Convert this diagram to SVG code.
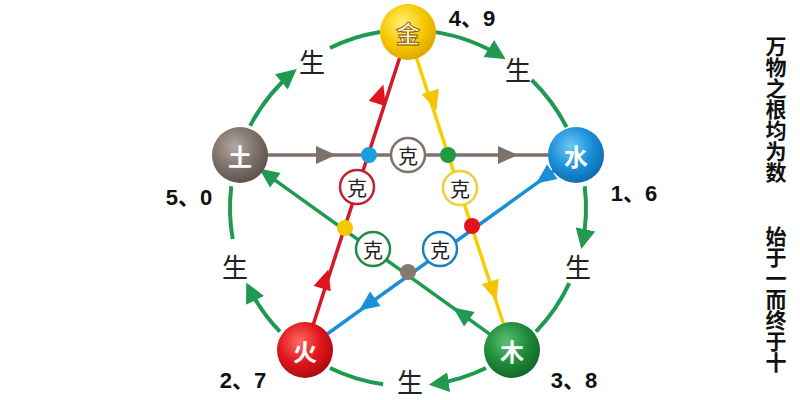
<svg xmlns="http://www.w3.org/2000/svg" width="800" height="400" viewBox="0 0 800 400">
<defs>
<radialGradient id="gJin" cx="40%" cy="35%" r="65%"><stop offset="0" stop-color="#fff27a"/><stop offset="0.6" stop-color="#f7c800"/><stop offset="1" stop-color="#e0a800"/></radialGradient>
<radialGradient id="gShui" cx="40%" cy="35%" r="65%"><stop offset="0" stop-color="#6cc8f5"/><stop offset="0.6" stop-color="#1a8fd8"/><stop offset="1" stop-color="#0d6fb0"/></radialGradient>
<radialGradient id="gMu" cx="40%" cy="35%" r="65%"><stop offset="0" stop-color="#5cc070"/><stop offset="0.6" stop-color="#1e8a3a"/><stop offset="1" stop-color="#136a2a"/></radialGradient>
<radialGradient id="gHuo" cx="40%" cy="35%" r="65%"><stop offset="0" stop-color="#ff6a60"/><stop offset="0.6" stop-color="#e0151b"/><stop offset="1" stop-color="#b00c10"/></radialGradient>
<radialGradient id="gTu" cx="40%" cy="35%" r="65%"><stop offset="0" stop-color="#b3a8a0"/><stop offset="0.6" stop-color="#7d716a"/><stop offset="1" stop-color="#5e544e"/></radialGradient>
<marker id="ga" viewBox="0 0 10 10" refX="8" refY="5" markerWidth="5" markerHeight="5" orient="auto" markerUnits="strokeWidth"><path d="M0,0 L10,5 L0,10 Z" fill="#1f9a50"/></marker>
<path id="tri" d="M11,0 L-9,-9 L-9,9 Z"/>
</defs>
<style>
.arc{fill:none;stroke:#1f9a50;stroke-width:4}
.sheng{font-family:"Noto Sans CJK SC",sans-serif;font-size:26px;fill:#222;text-anchor:middle;dominant-baseline:central}
.num{font-family:"Liberation Sans","Noto Sans CJK SC",sans-serif;font-size:22px;font-weight:bold;fill:#111;text-anchor:middle;dominant-baseline:central}
.ke circle{fill:#fff;stroke-width:2.5}
.ke text{font-family:"Noto Sans CJK SC",sans-serif;font-size:20px;fill:#222;text-anchor:middle;dominant-baseline:central}
.node text{font-family:"Noto Sans CJK SC",sans-serif;font-size:24px;font-weight:bold;fill:#fff;text-anchor:middle;dominant-baseline:central}
.vt{font-family:"Noto Sans CJK SC",sans-serif;font-size:21px;font-weight:bold;fill:#111;writing-mode:vertical-rl}
</style>
<rect width="800" height="400" fill="#fff"/>
<g id="connectors">
<path class="arc" marker-end="url(#ga)" d="M250.1,125.8 A178 178 0 0 1 293.6,71.6"/>
<path class="arc" d="M330,48 A178 178 0 0 1 380.2,32.1"/>
<path class="arc" marker-end="url(#ga)" d="M435.8,32.1 A178 178 0 0 1 502.3,57.1"/>
<path class="arc" d="M531.7,80 A178 178 0 0 1 566.6,127.2"/>
<path class="arc" marker-end="url(#ga)" d="M584.7,186.3 A178 178 0 0 1 582.1,245"/>
<path class="arc" d="M569.3,283.2 A178 178 0 0 1 536,331.7"/>
<path class="arc" marker-end="url(#ga)" d="M486,368 A178 178 0 0 1 432.8,384.3"/>
<path class="arc" d="M383.2,384.3 A178 178 0 0 1 330,368"/>
<path class="arc" marker-end="url(#ga)" d="M280,331.7 A178 178 0 0 1 248,286"/>
<path class="arc" d="M232.7,239 A178 178 0 0 1 231.3,186.3"/>
<line x1="240" y1="155" x2="576" y2="155" stroke="#7d716a" stroke-width="3.5"/>
<line x1="305" y1="350" x2="408" y2="32" stroke="#d4172a" stroke-width="3.5"/>
<line x1="408" y1="32" x2="512" y2="350" stroke="#f5d000" stroke-width="3.5"/>
<line x1="576" y1="155" x2="305" y2="350" stroke="#1a8fd8" stroke-width="3.5"/>
<line x1="512" y1="350" x2="240" y2="155" stroke="#1f9a50" stroke-width="3.5"/>
<use href="#tri" fill="#7d716a" transform="translate(325,155)"/>
<use href="#tri" fill="#7d716a" transform="translate(507,155)"/>
<use href="#tri" fill="#e0151b" transform="translate(380,95) rotate(-72)"/>
<use href="#tri" fill="#e0151b" transform="translate(325,280) rotate(-72)"/>
<use href="#tri" fill="#f5c400" transform="translate(433,100) rotate(72)"/>
<use href="#tri" fill="#f5c400" transform="translate(493,290) rotate(72)"/>
<use href="#tri" fill="#1a8fd8" transform="translate(545,177) rotate(144.3)"/>
<use href="#tri" fill="#1a8fd8" transform="translate(368,304) rotate(144.3)"/>
<use href="#tri" fill="#1f9a50" transform="translate(462,314) rotate(215.6)"/>
<use href="#tri" fill="#1f9a50" transform="translate(268,175) rotate(215.6)"/>
<circle cx="369" cy="155" r="8" fill="#1a9ee0"/>
<circle cx="448" cy="155" r="8" fill="#1f9a40"/>
<circle cx="345" cy="228" r="8" fill="#f5c800"/>
<circle cx="472" cy="226" r="8" fill="#e0151b"/>
<circle cx="408" cy="272" r="8" fill="#857a72"/>
</g>
<g id="ke1" class="ke"><circle cx="408" cy="155" r="17" stroke="#7d716a"/><text x="408" y="155">克</text></g>
<g id="ke2" class="ke"><circle cx="357" cy="187" r="17" stroke="#c4202e"/><text x="357" y="187">克</text></g>
<g id="ke3" class="ke"><circle cx="460" cy="188" r="17" stroke="#f0d030"/><text x="460" y="188">克</text></g>
<g id="ke4" class="ke"><circle cx="373" cy="249" r="17" stroke="#1f8a45"/><text x="373" y="249">克</text></g>
<g id="ke5" class="ke"><circle cx="440" cy="249" r="17" stroke="#1a80c0"/><text x="440" y="249">克</text></g>
<g id="labels">
<text class="sheng" x="312" y="60">生</text>
<text class="sheng" x="518" y="68">生</text>
<text class="sheng" x="578" y="265">生</text>
<text class="sheng" x="410" y="380">生</text>
<text class="sheng" x="235" y="265">生</text>
<text class="num" x="472" y="18">4、9</text>
<text class="num" x="634" y="193">1、6</text>
<text class="num" x="574" y="380">3、8</text>
<text class="num" x="243" y="380">2、7</text>
<text class="num" x="189" y="197">5、0</text>
<text class="vt" x="776" y="36">万物之根均为数</text>
<text class="vt" x="776" y="226">始于一而终于十</text>
</g>
<g id="jin" class="node"><circle cx="408" cy="32" r="28" fill="url(#gJin)"/><text x="408" y="32" fill="#fff" stroke="#7a4a10" stroke-width="0.8" style="fill:#fff6c0">金</text></g>
<g id="shui" class="node"><circle cx="576" cy="155" r="28" fill="url(#gShui)"/><text x="576" y="155">水</text></g>
<g id="mu" class="node"><circle cx="512" cy="350" r="28" fill="url(#gMu)"/><text x="512" y="350">木</text></g>
<g id="huo" class="node"><circle cx="305" cy="350" r="28" fill="url(#gHuo)"/><text x="305" y="350">火</text></g>
<g id="tu" class="node"><circle cx="240" cy="155" r="28" fill="url(#gTu)"/><text x="240" y="155">土</text></g>
</svg>
